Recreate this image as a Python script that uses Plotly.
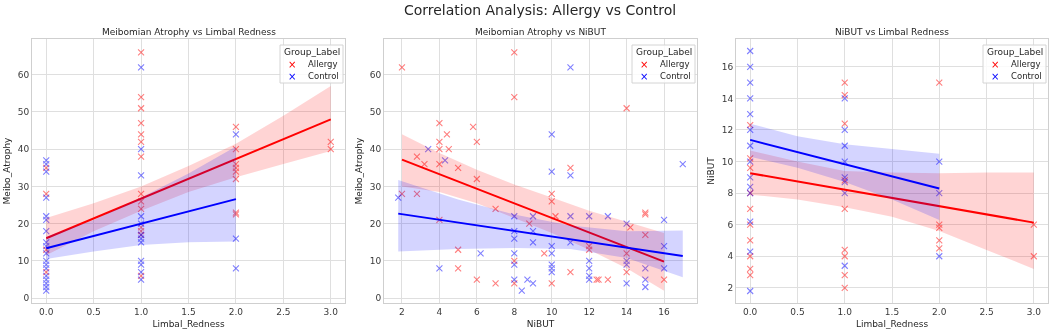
import plotly.graph_objects as go

RED = "#ff0000"
BLUE = "#0000ff"

# ---------------- Panel 1: Limbal_Redness vs Meibo_Atrophy ----------------
p1_allergy_x = [0, 0, 0, 0,
                1, 1, 1, 1, 1, 1, 1, 1, 1, 1, 1, 1, 1, 1,
                2, 2, 2, 2, 2, 2, 2, 2,
                3, 3]
p1_allergy_y = [35, 28, 13, 7,
                66, 54, 51, 47, 44, 42, 38, 28, 26, 24, 19, 18, 17, 6,
                46, 40, 36, 35, 34, 32, 23, 22.5,
                42, 40]
p1_control_x = [0, 0, 0, 0, 0, 0, 0, 0, 0, 0, 0, 0, 0, 0, 0, 0, 0, 0,
                1, 1, 1, 1, 1, 1, 1, 1, 1, 1, 1, 1,
                2, 2, 2]
p1_control_y = [37, 36, 34, 27, 22, 21, 18, 15, 14, 12, 10, 9, 8, 6, 5, 4, 3, 2,
                62, 40, 33, 22, 20, 17, 16, 15, 10, 9, 7, 5,
                44, 16, 8]
p1_allergy_fit = [16.1, 48.0]
p1_control_fit = [13.4, 26.6]
p1_allergy_band_x = [0, 0.5, 1, 1.5, 2, 2.5, 3]
p1_allergy_band_lo = [11.5, 18.0, 23.5, 28.5, 32.5, 36.0, 39.5]
p1_allergy_band_hi = [21.5, 25.5, 30.0, 35.5, 41.5, 49.0, 57.0]
p1_control_band_x = [0, 0.5, 1, 1.5, 2]
p1_control_band_lo = [10.5, 12.5, 14.3, 15.0, 15.2]
p1_control_band_hi = [16.5, 21.0, 27.0, 33.5, 40.7]

# ---------------- Panel 2: NiBUT vs Meibo_Atrophy ----------------
p2_allergy_x = [2, 8, 8, 14, 4, 4.4, 5.8, 4, 6, 4, 4.5, 2.8, 3.2, 4, 5, 11, 6, 2, 2.8,
                4, 7, 5, 5, 6, 7, 8, 8, 8.8, 9.6, 10, 10, 10, 10.2, 11, 12, 12,
                12.4, 12.5, 13, 14, 14, 14.2, 15, 15, 15, 16]
p2_allergy_y = [62, 66, 54, 51, 47, 44, 46, 42, 42, 40, 40, 38, 36, 36, 35, 35, 32, 28, 28,
                21, 24, 13, 8, 5, 4, 10, 4, 20, 12, 28, 26, 4, 22, 7, 14, 13,
                5, 5, 5, 12, 7, 19, 23, 22.5, 17, 5]
p2_control_x = [11, 10, 3.4, 4.3, 10, 11, 17, 1.8, 4, 6.2, 8, 8, 8, 8, 8, 8, 8.4, 8.7,
                9, 9, 9, 9, 10, 10, 10, 10, 10, 11, 11, 12, 12, 12, 12, 12, 13,
                14, 14, 14, 14, 15, 15, 15, 16, 16, 16]
p2_control_y = [62, 44, 40, 37, 34, 33, 36, 27, 8, 12, 22, 18, 16, 12, 9, 5, 2, 5,
                22, 18, 15, 4, 14, 12, 9, 8, 7, 22, 15, 22, 10, 8, 6, 5, 22,
                20, 10, 9, 4, 8, 5, 3, 21, 14, 8]
p2_allergy_fit = [37.2, 9.8]
p2_control_fit = [22.7, 11.3]
p2_allergy_band_x = [2, 4, 6, 8, 10, 12, 14, 16]
p2_allergy_band_lo = [30.0, 28.5, 25.5, 21.5, 17.5, 13.0, 8.0, 2.0]
p2_allergy_band_hi = [44.0, 39.0, 34.5, 30.5, 27.0, 23.5, 20.5, 17.5]
p2_control_band_x = [1.8, 5, 8, 11, 14, 17]
p2_control_band_lo = [12.5, 13.2, 13.5, 13.2, 10.8, 5.6]
p2_control_band_hi = [31.7, 26.5, 22.5, 19.5, 18.0, 18.2]

# ---------------- Panel 3: Limbal_Redness vs NiBUT ----------------
p3_allergy_x = [0, 0, 0, 0, 0, 0, 0, 0, 0, 0,
                1, 1, 1, 1, 1, 1, 1, 1, 1,
                2, 2, 2, 2, 2,
                3, 3]
p3_allergy_y = [12.3, 10.2, 9.6, 8, 7, 6, 5, 4, 3.2, 2.8,
                15, 14.2, 12.4, 8.8, 7, 4.4, 4, 2.8, 2,
                15, 6, 5.8, 5, 4.5,
                6, 4]
p3_control_x = [0, 0, 0, 0, 0, 0, 0, 0, 0, 0, 0, 0, 0, 0,
                1, 1, 1, 1, 1, 1, 1, 1,
                2, 2, 2]
p3_control_y = [17, 16, 15, 14, 13, 12, 11, 10, 9, 8.4, 8, 6.2, 4.3, 1.8,
                14, 12, 11, 10, 9, 8.7, 8, 3.4,
                10, 8, 4]
p3_allergy_fit = [9.26, 6.13]
p3_control_fit = [11.37, 8.29]
p3_allergy_band_x = [0, 0.5, 1, 1.5, 2, 2.5, 3]
p3_allergy_band_lo = [7.9, 7.6, 7.1, 6.5, 5.6, 4.4, 3.2]
p3_allergy_band_hi = [10.7, 10.0, 9.4, 9.3, 9.25, 9.3, 9.3]
p3_control_band_x = [0, 0.5, 1, 1.5, 2]
p3_control_band_lo = [10.3, 9.6, 8.7, 7.6, 6.3]
p3_control_band_hi = [12.4, 11.6, 11.1, 10.8, 10.5]

titles = ["Meibomian Atrophy vs Limbal Redness", "Meibomian Atrophy vs NiBUT", "NiBUT vs Limbal Redness"]
x_titles = ["Limbal_Redness", "NiBUT", "Limbal_Redness"]
y_titles = ["Meibo_Atrophy", "Meibo_Atrophy", "NiBUT"]
group_names = ["Allergy", "Control"]
group_colors = [RED, BLUE]
band_colors = ["rgba(255,0,0,0.17)", "rgba(0,0,255,0.17)"]
legend_title = "Group_Label"

panels = [
    [(p1_allergy_x, p1_allergy_y, p1_allergy_fit, p1_allergy_band_x, p1_allergy_band_lo, p1_allergy_band_hi),
     (p1_control_x, p1_control_y, p1_control_fit, p1_control_band_x, p1_control_band_lo, p1_control_band_hi)],
    [(p2_allergy_x, p2_allergy_y, p2_allergy_fit, p2_allergy_band_x, p2_allergy_band_lo, p2_allergy_band_hi),
     (p2_control_x, p2_control_y, p2_control_fit, p2_control_band_x, p2_control_band_lo, p2_control_band_hi)],
    [(p3_allergy_x, p3_allergy_y, p3_allergy_fit, p3_allergy_band_x, p3_allergy_band_lo, p3_allergy_band_hi),
     (p3_control_x, p3_control_y, p3_control_fit, p3_control_band_x, p3_control_band_lo, p3_control_band_hi)],
]

fig = go.Figure()

for i, groups in enumerate(panels):
    xa = "x" if i == 0 else "x" + str(i + 1)
    ya = "y" if i == 0 else "y" + str(i + 1)
    for g, (xs, ys, fit, bx, blo, bhi) in enumerate(groups):
        col = group_colors[g]
        fig.add_trace(go.Scatter(
            x=xs, y=ys, mode="markers", name=group_names[g], showlegend=False,
            xaxis=xa, yaxis=ya, opacity=0.5,
            marker=dict(symbol="x-thin", size=6, color=col, line=dict(width=1.1, color=col)),
            hoverinfo="skip"))
    for g, (xs, ys, fit, bx, blo, bhi) in enumerate(groups):
        col = group_colors[g]
        fig.add_trace(go.Scatter(
            x=list(bx) + list(bx)[::-1], y=list(bhi) + list(blo)[::-1],
            mode="lines", fill="toself", fillcolor=band_colors[g], line=dict(width=0),
            xaxis=xa, yaxis=ya, showlegend=False, hoverinfo="skip"))
        fig.add_trace(go.Scatter(
            x=[min(xs), max(xs)], y=fit, mode="lines", name=group_names[g] + " fit",
            line=dict(color=col, width=2), xaxis=xa, yaxis=ya,
            showlegend=False, hoverinfo="skip"))

W, H = 1052, 335
ml, mr, mt, mb = 32, 4, 39, 32
pw = W - ml - mr
ph = H - mt - mb
px_dom = [(32, 345), (384, 697), (736, 1048)]
doms = [[(a - ml) / pw, (b - ml) / pw] for a, b in px_dom]

font_family = "DejaVu Sans, Liberation Sans, sans-serif"
tick_font = dict(family=font_family, size=9, color="#3a3a3a")
title_font = dict(family=font_family, size=9, color="#262626")

axis_common = dict(showgrid=True, gridcolor="#dfdfdf", gridwidth=1, zeroline=False,
                   showline=True, linecolor="#cfcfcf", linewidth=1, mirror=True,
                   ticks="", tickfont=tick_font, automargin=False)

x_ranges = [[-0.15, 3.15], [1.04, 17.76], [-0.15, 3.15]]
y_ranges = [[-1.3, 69.6], [-1.3, 69.6], [1.04, 17.76]]
x_ticks = [dict(tickvals=[0, 0.5, 1, 1.5, 2, 2.5, 3], ticktext=["0.0", "0.5", "1.0", "1.5", "2.0", "2.5", "3.0"]),
           dict(tickvals=[2, 4, 6, 8, 10, 12, 14, 16]),
           dict(tickvals=[0, 0.5, 1, 1.5, 2, 2.5, 3], ticktext=["0.0", "0.5", "1.0", "1.5", "2.0", "2.5", "3.0"])]
y_ticks = [dict(tickvals=[0, 10, 20, 30, 40, 50, 60]),
           dict(tickvals=[0, 10, 20, 30, 40, 50, 60]),
           dict(tickvals=[2, 4, 6, 8, 10, 12, 14, 16])]

layout = dict(
    width=W, height=H, margin=dict(l=ml, r=mr, t=mt, b=mb, autoexpand=False),
    paper_bgcolor="white", plot_bgcolor="white", showlegend=False,
    font=dict(family=font_family, color="#262626"),
    title=dict(text="Correlation Analysis: Allergy vs Control", x=0.5, xanchor="center",
               xref="paper", y=1 - 10 / H, yref="container", yanchor="middle",
               font=dict(family=font_family, size=14, color="#262626")),
)
for i in range(3):
    sfx = "" if i == 0 else str(i + 1)
    layout["xaxis" + sfx] = dict(axis_common, domain=doms[i], range=x_ranges[i], anchor="y" + sfx,
                                 title=dict(text=x_titles[i], standoff=4, font=title_font), **x_ticks[i])
    layout["yaxis" + sfx] = dict(axis_common, domain=[0, 1], range=y_ranges[i], anchor="x" + sfx,
                                 title=dict(text=y_titles[i], standoff=5, font=title_font), **y_ticks[i])
fig.update_layout(**layout)

# subplot titles
for i in range(3):
    fig.add_annotation(text=titles[i], x=(doms[i][0] + doms[i][1]) / 2, xref="paper",
                       y=1, yref="paper", yanchor="bottom", xanchor="center",
                       showarrow=False, font=dict(family=font_family, size=9, color="#262626"))

# per-panel legend boxes (seaborn style, compact)
def px_x(p):
    return (p - ml) / pw

def px_y(p):
    return 1 - (p - mt) / ph

for i in range(3):
    right = px_dom[i][1] - 2
    left = right - 63
    top, bottom = 45, 83
    fig.add_shape(type="rect", xref="paper", yref="paper",
                  x0=px_x(left), x1=px_x(right), y0=px_y(bottom), y1=px_y(top),
                  fillcolor="rgba(255,255,255,0.85)", line=dict(color="#d4d4d4", width=1), layer="above")
    fig.add_annotation(text=legend_title, x=px_x(left + 32), y=px_y(52), xref="paper", yref="paper",
                       xanchor="center", yanchor="middle", showarrow=False,
                       font=dict(family=font_family, size=9, color="#262626"))
    for g in range(2):
        ry = 64 + 12 * g
        fig.add_annotation(text="×", x=px_x(left + 12), y=px_y(ry), xref="paper", yref="paper",
                           xanchor="center", yanchor="middle", showarrow=False,
                           font=dict(family=font_family, size=10, color=group_colors[g]))
        fig.add_annotation(text=group_names[g], x=px_x(left + 26), y=px_y(ry), xref="paper", yref="paper",
                           xanchor="left", yanchor="middle", showarrow=False,
                           font=dict(family=font_family, size=8.5, color="#262626"))

fig.write_html("out.html", config={"displayModeBar": False},
               post_script="document.body.style.margin='0px';document.body.style.overflow='hidden';")
